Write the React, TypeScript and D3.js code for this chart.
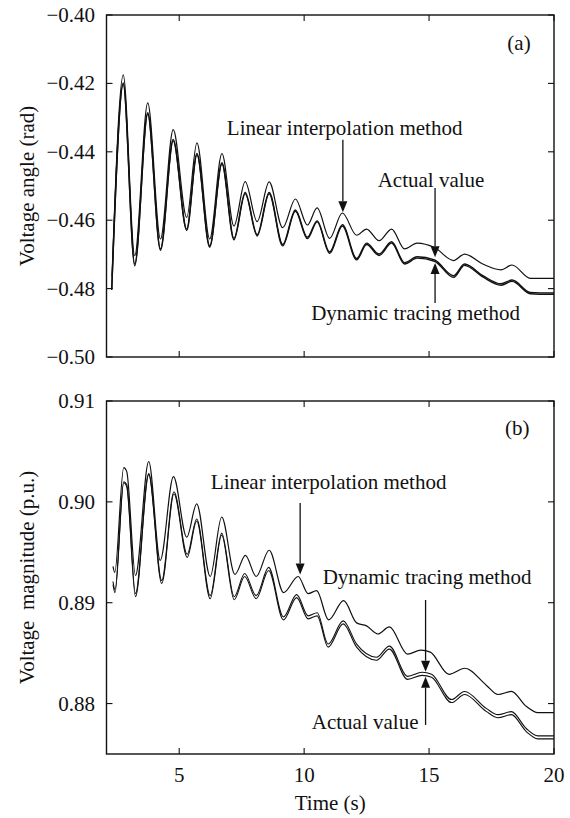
import React from 'react';
import * as d3 from 'd3';

// ── Data ─────────────────────────────────────────────────────────────────────
// (a) voltage angle, rad — [time s, value]
const angleActual: [number, number][] = [
  [2.3, -0.4801], [2.76, -0.4199], [3.22, -0.4728], [3.74, -0.4286], [4.25, -0.4684],
  [4.76, -0.4364], [5.3, -0.4626], [5.71, -0.4405], [6.22, -0.4675], [6.71, -0.4432],
  [7.19, -0.4653], [7.64, -0.4519], [8.12, -0.4642], [8.6, -0.4519], [9.14, -0.4671],
  [9.65, -0.457], [10.13, -0.465], [10.52, -0.4602], [11.02, -0.4693], [11.53, -0.4613],
  [12.1, -0.4712], [12.5, -0.4667], [13.0, -0.4699], [13.5, -0.4663], [14.02, -0.4724],
  [14.52, -0.4707], [15.22, -0.4716], [15.98, -0.4762], [16.42, -0.4728], [17.15, -0.4762],
  [17.88, -0.4786], [18.32, -0.4775], [19.05, -0.4811], [20, -0.4813],
];
const angleDynamic: [number, number][] = [
  [2.3, -0.4804], [2.76, -0.4203], [3.22, -0.4733], [3.74, -0.429], [4.25, -0.4688],
  [4.76, -0.4368], [5.3, -0.463], [5.71, -0.4409], [6.22, -0.4679], [6.71, -0.4436],
  [7.19, -0.4657], [7.64, -0.4523], [8.12, -0.4646], [8.6, -0.4523], [9.14, -0.4675],
  [9.65, -0.4574], [10.13, -0.4654], [10.52, -0.4605], [11.02, -0.4697], [11.53, -0.4617],
  [12.1, -0.4716], [12.5, -0.4671], [13.0, -0.4703], [13.5, -0.4667], [14.02, -0.4728],
  [14.52, -0.4711], [15.22, -0.472], [15.98, -0.4767], [16.42, -0.4732], [17.15, -0.4766],
  [17.88, -0.479], [18.32, -0.4779], [19.05, -0.4815], [20, -0.4817],
];
const angleLinear: [number, number][] = [
  [2.31, -0.4765], [2.76, -0.4175], [3.22, -0.4704], [3.74, -0.4257], [4.25, -0.4655],
  [4.76, -0.4335], [5.3, -0.4592], [5.71, -0.4374], [6.22, -0.4655], [6.71, -0.4405],
  [7.19, -0.4617], [7.64, -0.4487], [8.12, -0.4604], [8.6, -0.4488], [9.14, -0.4622],
  [9.65, -0.4538], [10.13, -0.4614], [10.52, -0.4564], [11.02, -0.4653], [11.53, -0.4579],
  [12.1, -0.4644], [12.5, -0.4626], [13.0, -0.466], [13.5, -0.4626], [14.02, -0.4684],
  [14.52, -0.4667], [15.22, -0.468], [15.98, -0.4718], [16.42, -0.4699], [17.15, -0.4728],
  [17.88, -0.4745], [18.32, -0.4731], [19.05, -0.477], [20, -0.477],
];

// (b) voltage magnitude, p.u.
const magActual: [number, number][] = [
  [2.35, 0.8918], [2.43, 0.891], [2.78, 0.9019], [2.9, 0.9015], [3.25, 0.8906],
  [3.78, 0.9027], [4.3, 0.8919], [4.79, 0.9008], [5.32, 0.8945], [5.7, 0.8981],
  [6.24, 0.8904], [6.7, 0.8967], [7.2, 0.8903], [7.62, 0.8926], [8.08, 0.8904],
  [8.58, 0.8932], [9.17, 0.8883], [9.7, 0.8905], [10.16, 0.8884], [10.52, 0.8887],
  [10.96, 0.8856], [11.56, 0.8879], [12.1, 0.8856], [12.9, 0.8843], [13.41, 0.8854],
  [14.14, 0.8824], [14.72, 0.8828], [15.1, 0.8826], [15.9, 0.8801], [16.42, 0.8809],
  [17.3, 0.8792], [17.76, 0.8786], [18.29, 0.8789], [18.9, 0.8772], [19.35, 0.8765],
  [20, 0.8765],
];
const magDynamic: [number, number][] = [
  [2.35, 0.8921], [2.43, 0.8913], [2.78, 0.902], [2.9, 0.9017], [3.25, 0.8909],
  [3.78, 0.9028], [4.3, 0.8922], [4.79, 0.901], [5.32, 0.8948], [5.7, 0.8983],
  [6.24, 0.8907], [6.7, 0.8969], [7.2, 0.8906], [7.62, 0.8929], [8.08, 0.8907],
  [8.58, 0.8935], [9.17, 0.8886], [9.7, 0.8908], [10.16, 0.8887], [10.52, 0.889],
  [10.96, 0.8859], [11.56, 0.8882], [12.1, 0.8859], [12.9, 0.8846], [13.41, 0.8857],
  [14.14, 0.8827], [14.72, 0.8831], [15.1, 0.8829], [15.9, 0.8804], [16.42, 0.8812],
  [17.3, 0.8795], [17.76, 0.8789], [18.29, 0.8792], [18.9, 0.8775], [19.35, 0.8768],
  [20, 0.8768],
];
const magLinear: [number, number][] = [
  [2.35, 0.8936], [2.42, 0.893], [2.78, 0.9034], [2.9, 0.903], [3.25, 0.8927],
  [3.78, 0.904], [4.24, 0.8942], [4.77, 0.9025], [5.3, 0.8965], [5.7, 0.8998],
  [6.24, 0.8926], [6.7, 0.8985], [7.23, 0.8928], [7.65, 0.8947], [8.08, 0.8926],
  [8.6, 0.8952], [9.18, 0.891], [9.76, 0.8926], [10.16, 0.8909], [10.5, 0.8912],
  [10.98, 0.8883], [11.58, 0.8902], [12.1, 0.888], [12.5, 0.8877], [12.95, 0.8869],
  [13.41, 0.8876], [14.14, 0.8849], [14.67, 0.8853], [15.05, 0.8851], [15.8, 0.8829],
  [16.43, 0.8835], [17.3, 0.8818], [17.76, 0.8809], [18.29, 0.8812], [18.9, 0.8797],
  [19.35, 0.8791], [20, 0.8791],
];

// Tick labels
const xTicks = [5, 10, 15, 20];
const angleTicks = [-0.4, -0.42, -0.44, -0.46, -0.48, -0.5];
const magTicks = [0.88, 0.89, 0.9, 0.91];

// Annotations: label text at (tx, ty), arrow at x from y0 to tip y1 (data units)
interface Note { text: string; tx: number; ty: number; ax?: number; a0?: number; a1?: number; }
const angleNotes: Note[] = [
  { text: 'Linear interpolation method', tx: 11.62, ty: -0.4351, ax: 11.55, a0: -0.4365, a1: -0.4577 },
  { text: 'Actual value', tx: 15.08, ty: -0.4503, ax: 15.24, a0: -0.4506, a1: -0.4708 },
  { text: 'Dynamic tracing method', tx: 14.46, ty: -0.4892, ax: 15.24, a0: -0.4842, a1: -0.4725 },
  { text: '(a)', tx: 18.6, ty: -0.4102 },
];
const magNotes: Note[] = [
  { text: 'Linear interpolation method', tx: 10.98, ty: 0.90128, ax: 9.84, a0: 0.89989, a1: 0.8928 },
  { text: 'Dynamic tracing method', tx: 14.92, ty: 0.89186, ax: 14.86, a0: 0.89027, a1: 0.88316 },
  { text: 'Actual value', tx: 12.44, ty: 0.87748, ax: 14.86, a0: 0.87788, a1: 0.88267 },
  { text: '(b)', tx: 18.53, ty: 0.90663 },
];

// ── Layout ───────────────────────────────────────────────────────────────────
const W = 570;
const H = 818;
const LEFT = 106.5;
const RIGHT = 554;
const PANEL_A = { top: 15, bottom: 357 };
const PANEL_B = { top: 401, bottom: 754 };
const FONT = "'Liberation Serif', 'Times New Roman', serif";
const FS = 21;
const INK = '#111';

const x = d3.scaleLinear().domain([2.09, 20]).range([LEFT, RIGHT]);

function fmtTick(v: number, digits: number) {
  return v.toFixed(digits).replace('-', '\u2212');
}

interface PanelProps {
  top: number;
  bottom: number;
  domain: [number, number];
  ticks: number[];
  digits: number;
  series: { data: [number, number][]; width: number }[];
  notes: Note[];
  ylabel: string;
  showX: boolean;
}

function Panel({ top, bottom, domain, ticks, digits, series, notes, ylabel, showX }: PanelProps) {
  const y = d3.scaleLinear().domain(domain).range([bottom, top]);
  const line = d3
    .line<[number, number]>()
    .x((d) => x(d[0]))
    .y((d) => y(d[1]))
    .curve(d3.curveMonotoneX);
  const TL = 6;

  return (
    <g>
      {/* curves */}
      {series.map((s, i) => (
        <path key={i} d={line(s.data) ?? ''} fill="none" stroke={INK} strokeWidth={s.width} strokeLinejoin="round" />
      ))}

      {/* frame */}
      <rect x={LEFT} y={top} width={RIGHT - LEFT} height={bottom - top} fill="none" stroke={INK} strokeWidth={1.4} />

      {/* inward ticks, all four sides */}
      {xTicks.map((t) => (
        <g key={'x' + t}>
          <line x1={x(t)} x2={x(t)} y1={bottom} y2={bottom - TL} stroke={INK} strokeWidth={1.1} />
          <line x1={x(t)} x2={x(t)} y1={top} y2={top + TL} stroke={INK} strokeWidth={1.1} />
        </g>
      ))}
      {ticks.map((t) => (
        <g key={'y' + t}>
          <line x1={LEFT} x2={LEFT + TL} y1={y(t)} y2={y(t)} stroke={INK} strokeWidth={1.1} />
          <line x1={RIGHT} x2={RIGHT - TL} y1={y(t)} y2={y(t)} stroke={INK} strokeWidth={1.1} />
          <text x={95} y={y(t) + 7} textAnchor="end" fontSize={FS} fill={INK}>
            {fmtTick(t, digits)}
          </text>
        </g>
      ))}

      {showX &&
        xTicks.map((t) => (
          <text key={'xl' + t} x={x(t)} y={bottom + 28} textAnchor="middle" fontSize={FS} fill={INK}>
            {t}
          </text>
        ))}

      {/* y label */}
      <text
        transform={`translate(34, ${(top + bottom) / 2}) rotate(-90)`}
        textAnchor="middle"
        fontSize={FS}
        fill={INK}
        style={{ whiteSpace: 'pre' }}
      >
        {ylabel}
      </text>

      {/* annotations */}
      {notes.map((n, i) => {
        const hasArrow = n.ax !== undefined;
        const ax = hasArrow ? x(n.ax!) : 0;
        const y0 = hasArrow ? y(n.a0!) : 0;
        const y1 = hasArrow ? y(n.a1!) : 0;
        const dir = y1 > y0 ? 1 : -1;
        const hh = 11;
        const hw = 4.5;
        return (
          <g key={i}>
            <text x={x(n.tx)} y={y(n.ty)} textAnchor="middle" fontSize={FS} fill={INK}>
              {n.text}
            </text>
            {hasArrow && (
              <>
                <line x1={ax} x2={ax} y1={y0} y2={y1 - dir * hh} stroke={INK} strokeWidth={1.3} />
                <path
                  d={`M${ax},${y1} L${ax - hw},${y1 - dir * hh} L${ax + hw},${y1 - dir * hh} Z`}
                  fill={INK}
                />
              </>
            )}
          </g>
        );
      })}
    </g>
  );
}

export default function App() {
  return (
    <div style={{ position: 'absolute', left: 0, top: 0, width: W, height: H, background: '#fff' }}>
      <svg width={W} height={H} style={{ display: 'block', fontFamily: FONT }}>
        <rect width={W} height={H} fill="#fff" />
        <Panel
          top={PANEL_A.top}
          bottom={PANEL_A.bottom}
          domain={[-0.5, -0.4]}
          ticks={angleTicks}
          digits={2}
          series={[
            { data: angleLinear, width: 1.2 },
            { data: angleActual, width: 1.4 },
            { data: angleDynamic, width: 1.4 },
          ]}
          notes={angleNotes}
          ylabel="Voltage angle (rad)"
          showX={false}
        />
        <Panel
          top={PANEL_B.top}
          bottom={PANEL_B.bottom}
          domain={[0.875, 0.91]}
          ticks={magTicks}
          digits={2}
          series={[
            { data: magLinear, width: 1.2 },
            { data: magActual, width: 1.1 },
            { data: magDynamic, width: 1.1 },
          ]}
          notes={magNotes}
          ylabel={'Voltage  magnitude (p.u.)'}
          showX={true}
        />
        <text x={(LEFT + RIGHT) / 2} y={810} textAnchor="middle" fontSize={FS} fill={INK}>
          Time (s)
        </text>
      </svg>
    </div>
  );
}
